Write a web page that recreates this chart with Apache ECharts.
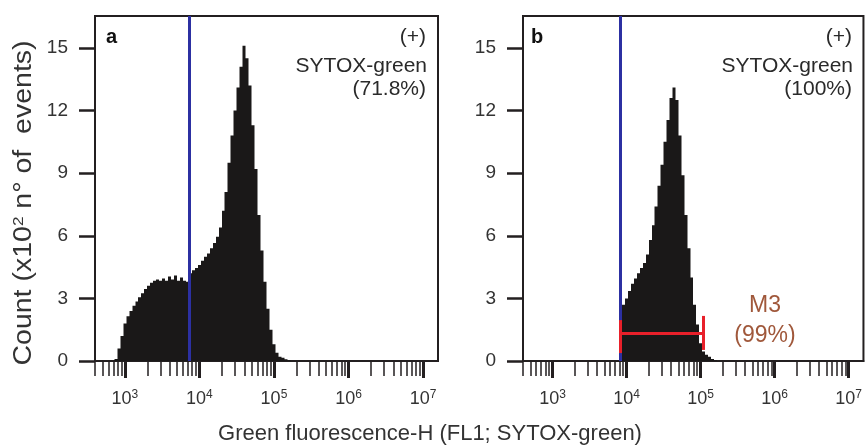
<!DOCTYPE html>
<html><head><meta charset="utf-8">
<script src="https://cdn.jsdelivr.net/npm/echarts@6/dist/echarts.min.js"></script>
<style>html,body{margin:0;padding:0;background:#fff}#c{width:865px;height:445px}</style>
</head><body><div id="c"></div><script>
// ---- data (x = log10 of green fluorescence, y = count x10^2) ----
const binStep = 0.04;
const binStartA = 2.84;
const countsA = [0, 0.1, 0.6, 1.2, 1.8, 2.15, 2.4, 2.65, 2.85, 3.05, 3.25, 3.45, 3.6, 3.75, 3.85, 3.9,
  3.85, 3.95, 3.85, 4.05, 3.9, 4.1, 3.85, 4.0, 3.85, 3.8, 4.2, 4.35, 4.45, 4.6, 4.8, 5.0,
  5.15, 5.4, 5.65, 5.95, 6.4, 7.2, 8.1, 9.5, 10.8, 12.0, 13.1, 14.1, 15.1, 14.5, 13.2, 11.3,
  9.2, 7.0, 5.3, 3.8, 2.5, 1.5, 0.8, 0.4, 0.2, 0.15, 0.08, 0.03, 0];
const binStartB = 3.88;
const countsB = [0, 2.4, 2.7, 3.0, 3.35, 3.7, 3.95, 4.2, 4.45, 4.7, 5.1, 5.8, 6.5, 7.4, 8.4, 9.4,
  10.5, 11.55, 12.6, 13.1, 12.5, 10.8, 8.9, 7.0, 5.4, 4.0, 2.7, 1.75, 0.85, 0.45, 0.3, 0.2,
  0.1, 0.03, 0];
const yTickValues = [0, 3, 6, 9, 12, 15];
const decadeExponents = [3, 4, 5, 6, 7];
const gateLines = [3.87, 3.91];          // blue gate marker, panel a / b
const m3Range = [3.91, 5.03];            // M3 marker range (log10)
const m3Level = [1.33];                  // horizontal bar height
const m3EndsLeft = [0.38, 1.96];
const m3EndsRight = [0.53, 2.16];
const panelLetters = ['a', 'b'];
const panelPercents = ['(71.8%)', '(100%)'];
const xMin = 2.6, xMax = 7.2, yMax = 16.53;

const minorTicks = [];
for (let n = 2; n <= 7; n++) for (let k = 2; k <= 9; k++) {
  const v = n + Math.log10(k);
  if (v >= xMin && v <= xMax) minorTicks.push(v);
}
const toPairs = (start, arr) => arr.map((c, i) => [+(start + i * binStep).toFixed(3), c]);

const FONT = '"Liberation Sans", Arial, Helvetica, sans-serif';
const INK = '#231f20';
const BLACK = '#1a1818';

const grids = [
  { left: 95, top: 16, width: 343, height: 345 },
  { left: 523, top: 16, width: 344, height: 345 }
];

const xAxes = [], yAxes = [];
grids.forEach((g, i) => {
  xAxes.push({
    type: 'value', gridIndex: i, min: xMin, max: xMax, position: 'bottom',
    splitLine: { show: false }, splitArea: { show: false },
    axisLine: { show: true, onZero: false, lineStyle: { color: INK, width: 2 } },
    axisTick: { show: true, customValues: decadeExponents, length: 17, lineStyle: { color: INK, width: 3 } },
    axisLabel: {
      customValues: decadeExponents, margin: 28, fontFamily: FONT,
      formatter: v => '{b|10}{s|' + v + '}',
      rich: {
        b: { fontSize: 18, lineHeight: 20, color: '#333', fontFamily: FONT },
        s: { fontSize: 12, lineHeight: 12, verticalAlign: 'top', color: '#333', fontFamily: FONT }
      }
    }
  });
  xAxes.push({
    type: 'value', gridIndex: i, min: xMin, max: xMax, position: 'bottom',
    splitLine: { show: false }, splitArea: { show: false },
    axisLine: { show: false, onZero: false },
    axisTick: { show: true, customValues: minorTicks, length: 15, lineStyle: { color: INK, width: 1.5 } },
    axisLabel: { show: false }
  });
  yAxes.push({
    type: 'value', gridIndex: i, min: 0, max: yMax,
    splitLine: { show: false }, splitArea: { show: false },
    axisLine: { show: true, lineStyle: { color: INK, width: 2 } },
    axisTick: { show: true, customValues: yTickValues, length: 16, lineStyle: { color: INK, width: 2.5 } },
    axisLabel: { customValues: yTickValues, margin: 27, fontSize: 19, color: '#333', fontFamily: FONT }
  });
});

// Histogram drawn as one stepped polygon through the axis scales
const histSeries = (start, counts, gi) => {
  const pairs = toPairs(start, counts);
  return {
    type: 'custom', xAxisIndex: gi * 2, yAxisIndex: gi, data: pairs, z: 2, silent: true, clip: false,
    encode: { x: 0, y: 1 },
    renderItem: (params, api) => {
      if (params.dataIndex !== 0) return null;
      const pts = [];
      const h = binStep / 2;
      pts.push(api.coord([pairs[0][0] - h, 0]));
      pairs.forEach(([x, c]) => {
        pts.push(api.coord([x - h, c]));
        pts.push(api.coord([x + h, c]));
      });
      pts.push(api.coord([pairs[pairs.length - 1][0] + h, 0]));
      const rounded = pts.map(p => [Math.round(p[0] * 2) / 2, p[1]]);
      return { type: 'polygon', shape: { points: rounded }, style: { fill: BLACK, stroke: null, lineWidth: 0 } };
    }
  };
};

const markSeries = (gi, gate) => ({
  type: 'line', xAxisIndex: gi * 2, yAxisIndex: gi, data: [], z: 4, silent: true,
  markLine: {
    symbol: 'none', silent: true, animation: false, label: { show: false },
    lineStyle: { color: '#2c30a2', width: 3, type: 'solid' },
    data: [{ xAxis: gate }]
  }
});

const series = [
  histSeries(binStartA, countsA, 0),
  histSeries(binStartB, countsB, 1),
  markSeries(0, gateLines[0]),
  markSeries(1, gateLines[1]),
  {
    type: 'line', xAxisIndex: 2, yAxisIndex: 1, data: [], z: 6, silent: true,
    markLine: {
      symbol: 'none', silent: true, animation: false, label: { show: false }, z: 6,
      lineStyle: { color: '#e8202a', width: 3, type: 'solid' },
      data: [
        [{ coord: [m3Range[0], m3Level[0]] }, { coord: [m3Range[1], m3Level[0]] }],
        [{ coord: [m3Range[0], m3EndsLeft[0]] }, { coord: [m3Range[0], m3EndsLeft[1]] }],
        [{ coord: [m3Range[1], m3EndsRight[0]] }, { coord: [m3Range[1], m3EndsRight[1]] }]
      ]
    }
  }
];

const txt = (x, y, text, size, align, extra) => ({
  type: 'text', x, y, z: 10, silent: true,
  style: Object.assign({ text, fontSize: size, fontFamily: FONT, fill: '#2a2a2a', align, verticalAlign: 'middle' }, extra || {})
});
const graphics = [];
[[106, 426], [531, 852]].forEach(([lx, rx], i) => {
  graphics.push(txt(lx, 37, panelLetters[i], 20, 'left', { fontWeight: 'bold', fill: '#111' }));
  graphics.push(txt(rx, 37, '(+)', 21, 'right'));
  graphics.push(txt(rx + 1, 66, 'SYTOX-green', 21, 'right'));
  graphics.push(txt(rx, 89, panelPercents[i], 21, 'right'));
});
graphics.push(txt(765, 306, 'M3', 23, 'center', { fill: '#a0583b' }));
graphics.push(txt(765, 336, '(99%)', 23, 'center', { fill: '#a0583b' }));
graphics.push(txt(430, 434, 'Green fluorescence-H (FL1; SYTOX-green)', 22, 'center', { fill: '#333' }));
graphics.push({
  type: 'text', x: 24, y: 203, rotation: Math.PI / 2, scaleX: 1.14, z: 10, silent: true,
  style: {
    text: 'Count (x10{s|2} n° of  events)', fontSize: 25, fontFamily: FONT, fill: '#333',
    align: 'center', verticalAlign: 'middle',
    rich: { s: { fontSize: 15, verticalAlign: 'top', lineHeight: 15, fill: '#333', fontFamily: FONT } }
  }
});

const chart = echarts.init(document.getElementById('c'), null, { renderer: 'canvas' });
chart.setOption({
  animation: false,
  backgroundColor: '#fff',
  grid: grids.map(g => Object.assign({ show: true, borderColor: INK, borderWidth: 2, backgroundColor: 'transparent' }, g)),
  xAxis: xAxes,
  yAxis: yAxes,
  series,
  graphic: graphics
});
</script></body></html>
